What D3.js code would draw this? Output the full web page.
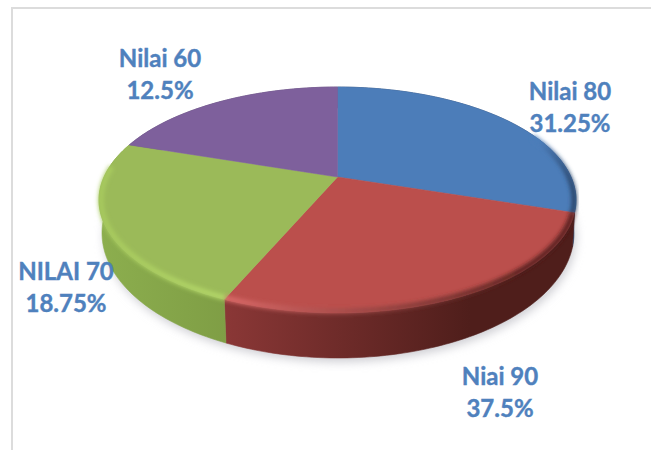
<!DOCTYPE html>
<html>
<head>
<meta charset="utf-8">
<script src="https://cdn.jsdelivr.net/npm/d3@7"></script>
<style>
  html, body { margin: 0; padding: 0; background: #fff; }
  svg { display: block; }
</style>
</head>
<body>
<div id="chart"></div>
<script>
// slice sizes as measured on the picture (the printed labels do not match them)
var categories = ["Nilai 80", "Niai 90", "NILAI 70", "Nilai 60"];
var sliceValues = [30, 26.45, 23.65, 19.9];
var percentLabels = ["31.25%", "37.5%", "18.75%", "12.5%"];

var width = 651, height = 450;
var faceColors = ["#4c7db9", "#bb4f4c", "#9bba59", "#7e609c"];

// wall shading from left to right, one list per slice
var wallStops = [
  ["#2c4870", "#2c4870"],
  ["#8a3736", "#4f1e1b"],
  ["#8cae4e", "#7f9e45"],
  ["#5a4570", "#5a4570"]
];
// rim light along the front edge of the face
var rimStops = [
  ["#4c7db9", "#263f60"],
  ["#dd6c6b", "#4f1e1b"],
  ["#a8cb5e", "#b5d96a"],
  ["#7e609c", "#7e609c"]
];
var labelAnchor = [[570, 100], [500, 385], [66, 280], [160, 67]];

var svg = d3.select("#chart").append("svg")
  .attr("width", width)
  .attr("height", height);

var defs = svg.append("defs");
defs.append("filter").attr("id", "soft")
  .attr("x", "-10%").attr("y", "-10%").attr("width", "120%").attr("height", "120%")
  .append("feGaussianBlur").attr("stdDeviation", 5);
defs.append("filter").attr("id", "rimblur")
  .attr("x", "-10%").attr("y", "-30%").attr("width", "120%").attr("height", "160%")
  .append("feGaussianBlur").attr("stdDeviation", 2.2);

function addGradient(id, stops, x1, x2) {
  var g = defs.append("linearGradient").attr("id", id)
    .attr("gradientUnits", "userSpaceOnUse")
    .attr("x1", x1).attr("x2", x2).attr("y1", 0).attr("y2", 0);
  g.append("stop").attr("offset", 0).attr("stop-color", stops[0]);
  g.append("stop").attr("offset", 1).attr("stop-color", stops[1]);
}
wallStops.forEach(function (s, i) {
  addGradient("wall" + i, s, i === 2 ? 100 : 226, i === 2 ? 226 : 470);
});
rimStops.forEach(function (s, i) {
  addGradient("rim" + i, s, i === 0 ? 540 : (i === 2 ? 100 : 226), i === 0 ? 576 : (i === 2 ? 226 : 520));
});

// outer frame of the pasted picture
svg.append("path")
  .attr("d", d3.line()([[12, height], [12, 8], [width, 8]]))
  .attr("fill", "none")
  .attr("stroke", "#dcdcdc")
  .attr("stroke-width", 2);

// tilted disc: the pie centre sits above the middle of the ellipse (perspective)
var cx = 337.5, cy = 177, k = 0.2035, m = 108.3, a = 233.5;

function topPoint(t) {
  var u = Math.sin(t), v = -Math.cos(t), w = 1 - k * v;
  return [cx + a * u / w, cy + m * v / w];
}
function bottomPoint(t) {
  var p = topPoint(t);
  return [338 + (p[0] - 337.5) / 238.5 * 236, 233 + (p[1] - 200) / 113 * 125];
}

var pie = d3.pie().sort(null);
var arcs = pie(sliceValues);
var line = d3.line();

function samples(t0, t1) {
  var n = Math.max(2, Math.ceil((t1 - t0) / 0.02));
  return d3.range(n + 1).map(function (i) { return t0 + (t1 - t0) * i / n; });
}

// soft shadow under the disc
var full = samples(0, 2 * Math.PI);
svg.append("path")
  .attr("d", line(full.map(function (t) {
    var p = bottomPoint(t);
    return [p[0] + 2, p[1] + 4];
  })) + "Z")
  .attr("fill", "#cfcfd4")
  .attr("filter", "url(#soft)");

// side walls
svg.append("g").selectAll("path")
  .data(arcs)
  .join("path")
  .attr("d", function (d) {
    var ts = samples(d.startAngle, d.endAngle);
    return line(ts.map(topPoint).concat(ts.slice().reverse().map(bottomPoint))) + "Z";
  })
  .attr("fill", function (d) { return "url(#wall" + d.index + ")"; })
  .attr("stroke", function (d) { return "url(#wall" + d.index + ")"; })
  .attr("stroke-width", 0.6);

// top face
svg.append("g").selectAll("path")
  .data(arcs)
  .join("path")
  .attr("d", function (d) {
    return line([[cx, cy]].concat(samples(d.startAngle, d.endAngle).map(topPoint))) + "Z";
  })
  .attr("fill", function (d) { return faceColors[d.index]; })
  .attr("stroke", function (d) { return faceColors[d.index]; })
  .attr("stroke-width", 0.5);

// bevel highlight running along the front edge
svg.append("g").selectAll("path")
  .data(arcs.slice(0, 3))
  .join("path")
  .attr("d", function (d) {
    var t0 = d.index === 0 ? Math.max(d.startAngle, 1.15) : d.startAngle;
    var t1 = d.index === 2 ? d.endAngle - 0.22 : d.endAngle;
    return line(samples(t0, t1).map(function (t) {
      var p = topPoint(t);
      return [cx + (p[0] - cx) * 0.992, 200 + (p[1] - 200) * 0.985];
    }));
  })
  .attr("fill", "none")
  .attr("stroke", function (d) { return "url(#rim" + d.index + ")"; })
  .attr("stroke-width", 5)
  .attr("filter", "url(#rimblur)");

// data labels
var labels = svg.append("g")
  .attr("font-family", "Lato, 'Open Sans', sans-serif")
  .attr("font-weight", 700)
  .attr("font-size", 24)
  .attr("fill", "#4f81bd")
  .attr("stroke", "#4f81bd")
  .attr("stroke-width", 0.4)
  .attr("text-anchor", "middle");

categories.forEach(function (name, i) {
  labels.append("text")
    .attr("x", labelAnchor[i][0])
    .attr("y", labelAnchor[i][1])
    .text(name);
  labels.append("text")
    .attr("x", labelAnchor[i][0])
    .attr("y", labelAnchor[i][1] + 32)
    .text(percentLabels[i]);
});
</script>
</body>
</html>
